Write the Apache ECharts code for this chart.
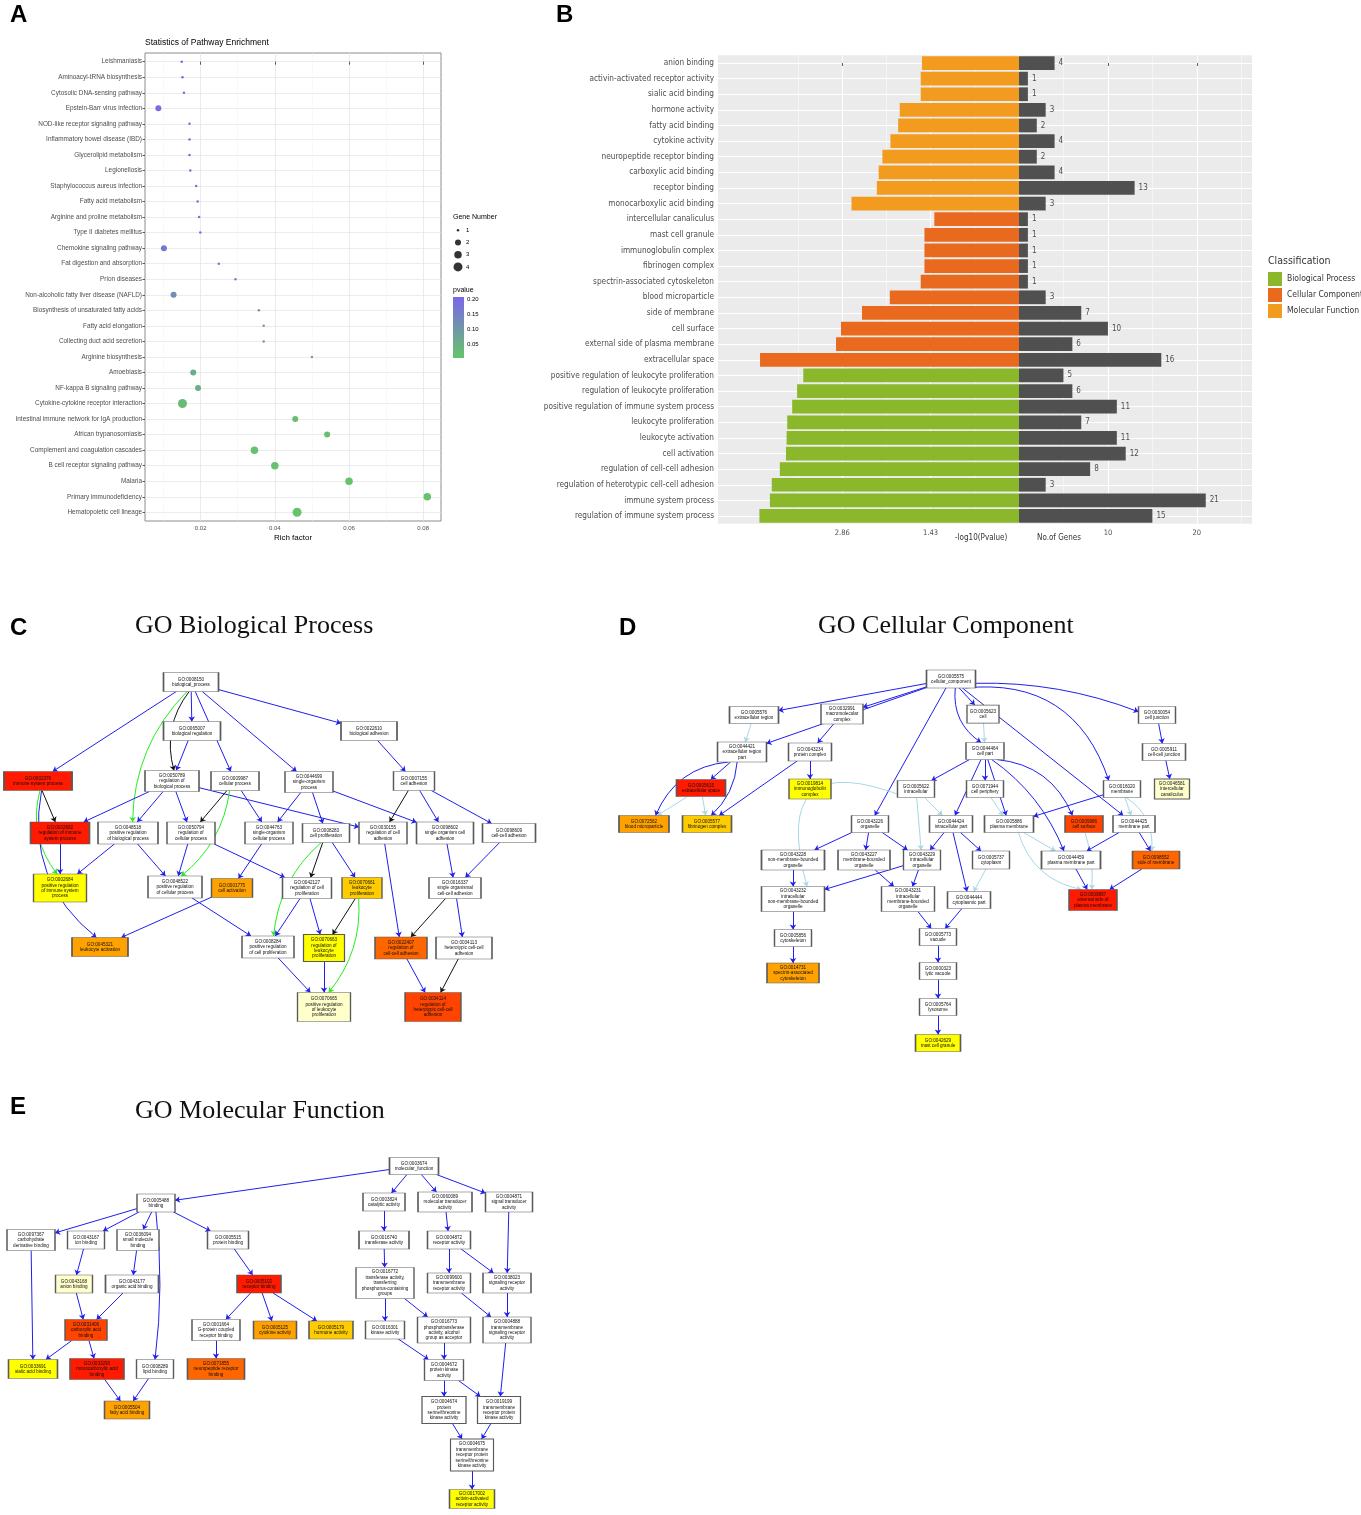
<!DOCTYPE html>
<html lang="en">
<head>
<meta charset="UTF-8">
<title>Pathway and GO enrichment</title>
<script src="https://cdn.jsdelivr.net/npm/echarts@6.0.0/dist/echarts.min.js"></script>
<style>
    html, body { margin: 0; padding: 0; background: #fff; }
    #main { width: 1361px; height: 1515px; }
</style>
</head>
<body>
<div id="main"></div>
<script>
// ---------- panel A: KEGG pathway enrichment ----------
var pathways = ['Leishmaniasis', 'Aminoacyl-tRNA biosynthesis', 'Cytosolic DNA-sensing pathway', 'Epstein-Barr virus infection',
    'NOD-like receptor signaling pathway', 'Inflammatory bowel disease (IBD)', 'Glycerolipid metabolism', 'Legionellosis',
    'Staphylococcus aureus infection', 'Fatty acid metabolism', 'Arginine and proline metabolism', 'Type II diabetes mellitus',
    'Chemokine signaling pathway', 'Fat digestion and absorption', 'Prion diseases', 'Non-alcoholic fatty liver disease (NAFLD)',
    'Biosynthesis of unsaturated fatty acids', 'Fatty acid elongation', 'Collecting duct acid secretion', 'Arginine biosynthesis',
    'Amoebiasis', 'NF-kappa B signaling pathway', 'Cytokine-cytokine receptor interaction', 'Intestinal immune network for IgA production',
    'African trypanosomiasis', 'Complement and coagulation cascades', 'B cell receptor signaling pathway', 'Malaria',
    'Primary immunodeficiency', 'Hematopoietic cell lineage'];
var richFactor = [0.0149, 0.0151, 0.0155, 0.0086, 0.0170, 0.0170, 0.0170, 0.0172, 0.0188, 0.0192, 0.0196, 0.0199,
    0.0101, 0.0249, 0.0294, 0.0127, 0.0357, 0.0370, 0.0370, 0.0500, 0.0180, 0.0193, 0.0151, 0.0455,
    0.0541, 0.0345, 0.0400, 0.0600, 0.0811, 0.0460];
var geneNumber = [1, 1, 1, 2, 1, 1, 1, 1, 1, 1, 1, 1, 2, 1, 1, 2, 1, 1, 1, 1, 2, 2, 4, 2, 2, 3, 3, 3, 3, 4];
var pValue = [0.205, 0.205, 0.203, 0.195, 0.195, 0.193, 0.193, 0.192, 0.188, 0.186, 0.184, 0.183,
    0.170, 0.155, 0.135, 0.120, 0.100, 0.095, 0.095, 0.080, 0.055, 0.053, 0.025, 0.020,
    0.018, 0.012, 0.011, 0.009, 0.008, 0.006];
var richTicks = [0.02, 0.04, 0.06, 0.08];
var richMinor = [0.01, 0.03, 0.05, 0.07];
var geneLevels = [1, 2, 3, 4];
var pvalueTicks = [0.05, 0.10, 0.15, 0.20];
var pvalueRange = [0.006, 0.207];

// ---------- panel B: GO term bars ----------
var goTerms = ['anion binding', 'activin-activated receptor activity', 'sialic acid binding', 'hormone activity',
    'fatty acid binding', 'cytokine activity', 'neuropeptide receptor binding', 'carboxylic acid binding',
    'receptor binding', 'monocarboxylic acid binding', 'intercellular canaliculus', 'mast cell granule',
    'immunoglobulin complex', 'fibrinogen complex', 'spectrin-associated cytoskeleton', 'blood microparticle',
    'side of membrane', 'cell surface', 'external side of plasma membrane', 'extracellular space',
    'positive regulation of leukocyte proliferation', 'regulation of leukocyte proliferation',
    'positive regulation of immune system process', 'leukocyte proliferation', 'leukocyte activation',
    'cell activation', 'regulation of cell-cell adhesion', 'regulation of heterotypic cell-cell adhesion',
    'immune system process', 'regulation of immune system process'];
var goClass = ['MF', 'MF', 'MF', 'MF', 'MF', 'MF', 'MF', 'MF', 'MF', 'MF',
    'CC', 'CC', 'CC', 'CC', 'CC', 'CC', 'CC', 'CC', 'CC', 'CC',
    'BP', 'BP', 'BP', 'BP', 'BP', 'BP', 'BP', 'BP', 'BP', 'BP'];
var goLogP = [1.57, 1.59, 1.59, 1.93, 1.955, 2.08, 2.21, 2.27, 2.30, 2.71,
    1.37, 1.53, 1.53, 1.53, 1.59, 2.09, 2.54, 2.88, 2.96, 4.19,
    3.49, 3.59, 3.67, 3.75, 3.76, 3.77, 3.87, 4.00, 4.03, 4.20];
var goGenes = [4, 1, 1, 3, 2, 4, 2, 4, 13, 3, 1, 1, 1, 1, 1, 3, 7, 10, 6, 16, 5, 6, 11, 7, 11, 12, 8, 3, 21, 15];
var classCodes = ['BP', 'CC', 'MF'];
var classNames = ['Biological Process', 'Cellular Component', 'Molecular Function'];
var logPTicks = [1.43, 2.86];
var logPMinor = [0.715, 2.145, 3.575];
var geneTicks = [10, 20];
var geneMinor = [5, 15, 25];

// ---------- panels C-E: GO DAGs, [id, term, significance level 0-7] ----------
var bpNodes = [
    ['0008150', 'biological_process', 0], ['0065007', 'biological regulation', 0], ['0022610', 'biological adhesion', 0],
    ['0002376', 'immune system process', 7], ['0050789', 'regulation of\nbiological process', 0], ['0009987', 'cellular process', 0],
    ['0044699', 'single-organism\nprocess', 0], ['0007155', 'cell adhesion', 0], ['0002682', 'regulation of immune\nsystem process', 7],
    ['0048518', 'positive regulation\nof biological process', 0], ['0050794', 'regulation of\ncellular process', 0],
    ['0044763', 'single-organism\ncellular process', 0], ['0008283', 'cell proliferation', 0],
    ['0030155', 'regulation of cell\nadhesion', 0], ['0098602', 'single organism cell\nadhesion', 0], ['0098609', 'cell-cell adhesion', 0],
    ['0002684', 'positive regulation\nof immune system\nprocess', 2], ['0048522', 'positive regulation\nof cellular process', 0],
    ['0001775', 'cell activation', 4], ['0042127', 'regulation of cell\nproliferation', 0], ['0070661', 'leukocyte\nproliferation', 3],
    ['0016337', 'single organismal\ncell-cell adhesion', 0], ['0045321', 'leukocyte activation', 4],
    ['0008284', 'positive regulation\nof cell proliferation', 0], ['0070663', 'regulation of\nleukocyte\nproliferation', 2],
    ['0022407', 'regulation of\ncell-cell adhesion', 5], ['0034113', 'heterotypic cell-cell\nadhesion', 0],
    ['0070665', 'positive regulation\nof leukocyte\nproliferation', 1], ['0034114', 'regulation of\nheterotypic cell-cell\nadhesion', 6]
];
// edge types: a = is_a, p = part_of, r = regulates, g = positively regulates
var bpEdges = [
    ['0008150', '0002376', 'a'], ['0008150', '0065007', 'a'], ['0008150', '0050789', 'r'], ['0008150', '0048518', 'g'],
    ['0008150', '0009987', 'a'], ['0008150', '0044699', 'a'], ['0008150', '0022610', 'a'], ['0065007', '0050789', 'a'],
    ['0002376', '0002682', 'r'], ['0002376', '0002684', 'g'], ['0002376', '0045321', 'a'], ['0050789', '0002682', 'a'],
    ['0050789', '0048518', 'a'], ['0050789', '0050794', 'a'], ['0050789', '0030155', 'a'], ['0009987', '0050794', 'r'],
    ['0009987', '0044763', 'a'], ['0009987', '0048522', 'g'], ['0044699', '0044763', 'a'], ['0044699', '0008283', 'a'],
    ['0044699', '0098602', 'a'], ['0022610', '0007155', 'a'], ['0007155', '0030155', 'r'], ['0007155', '0098602', 'a'],
    ['0007155', '0098609', 'a'], ['0002682', '0002684', 'a'], ['0048518', '0002684', 'a'], ['0048518', '0048522', 'a'],
    ['0050794', '0048522', 'a'], ['0050794', '0042127', 'a'], ['0044763', '0001775', 'a'], ['0008283', '0008284', 'g'],
    ['0008283', '0042127', 'r'], ['0008283', '0070661', 'a'], ['0030155', '0022407', 'a'], ['0098602', '0016337', 'a'],
    ['0098609', '0016337', 'a'], ['0001775', '0045321', 'a'], ['0048522', '0008284', 'a'], ['0042127', '0008284', 'a'],
    ['0042127', '0070663', 'a'], ['0070661', '0070663', 'r'], ['0070661', '0070665', 'g'], ['0016337', '0022407', 'r'],
    ['0016337', '0034113', 'a'], ['0008284', '0070665', 'a'], ['0070663', '0070665', 'a'], ['0022407', '0034114', 'a'],
    ['0034113', '0034114', 'r']
];
var ccNodes = [
    ['0005575', 'cellular_component', 0], ['0005576', 'extracellular region', 0], ['0032991', 'macromolecular\ncomplex', 0],
    ['0005623', 'cell', 0], ['0030054', 'cell junction', 0], ['0044421', 'extracellular region\npart', 0],
    ['0043234', 'protein complex', 0], ['0044464', 'cell part', 0], ['0005911', 'cell-cell junction', 0],
    ['0005615', 'extracellular space', 7], ['0019814', 'immunoglobulin\ncomplex', 2], ['0005622', 'intracellular', 0],
    ['0071944', 'cell periphery', 0], ['0016020', 'membrane', 0], ['0046581', 'intercellular\ncanaliculus', 1],
    ['0072562', 'blood microparticle', 4], ['0005577', 'fibrinogen complex', 3], ['0043226', 'organelle', 0],
    ['0044424', 'intracellular part', 0], ['0005886', 'plasma membrane', 0], ['0009986', 'cell surface', 6],
    ['0044425', 'membrane part', 0], ['0043228', 'non-membrane-bounded\norganelle', 0], ['0043227', 'membrane-bounded\norganelle', 0],
    ['0043229', 'intracellular\norganelle', 0], ['0005737', 'cytoplasm', 0], ['0044459', 'plasma membrane part', 0],
    ['0098552', 'side of membrane', 5], ['0043232', 'intracellular\nnon-membrane-bounded\norganelle', 0],
    ['0043231', 'intracellular\nmembrane-bounded\norganelle', 0], ['0044444', 'cytoplasmic part', 0],
    ['0009897', 'external side of\nplasma membrane', 7], ['0005856', 'cytoskeleton', 0], ['0005773', 'vacuole', 0],
    ['0014731', 'spectrin-associated\ncytoskeleton', 4], ['0000323', 'lytic vacuole', 0], ['0005764', 'lysosome', 0],
    ['0042629', 'mast cell granule', 2]
];
var ccEdges = [
    ['0005575', '0005576', 'a'], ['0005575', '0044421', 'a'], ['0005575', '0032991', 'a'], ['0005575', '0043226', 'a'],
    ['0005575', '0005623', 'a'], ['0005575', '0044464', 'a'], ['0005575', '0030054', 'a'], ['0005575', '0016020', 'a'],
    ['0005575', '0044425', 'a'], ['0005576', '0044421', 'p'], ['0032991', '0043234', 'a'], ['0044421', '0005615', 'a'],
    ['0044421', '0072562', 'a'], ['0044421', '0005577', 'a'], ['0043234', '0019814', 'a'], ['0043234', '0005577', 'a'],
    ['0005615', '0072562', 'p'], ['0005615', '0005577', 'p'], ['0005623', '0044464', 'p'], ['0044464', '0005622', 'a'],
    ['0044464', '0044424', 'a'], ['0044464', '0071944', 'a'], ['0044464', '0005886', 'a'], ['0044464', '0009986', 'a'],
    ['0044464', '0044459', 'a'], ['0030054', '0005911', 'a'], ['0005911', '0046581', 'a'], ['0005622', '0043229', 'p'],
    ['0005622', '0044424', 'p'], ['0005622', '0043232', 'p'], ['0043226', '0043228', 'a'], ['0043226', '0043227', 'a'],
    ['0043226', '0043229', 'a'], ['0071944', '0005886', 'p'], ['0016020', '0005886', 'a'], ['0016020', '0044425', 'p'],
    ['0016020', '0098552', 'p'], ['0044424', '0043229', 'a'], ['0044424', '0005737', 'a'], ['0044424', '0044444', 'a'],
    ['0005886', '0044459', 'p'], ['0005886', '0009897', 'p'], ['0009986', '0009897', 'p'], ['0044425', '0044459', 'a'],
    ['0044425', '0098552', 'a'], ['0043228', '0043232', 'a'], ['0043229', '0043232', 'a'], ['0043229', '0043231', 'a'],
    ['0043227', '0043231', 'a'], ['0005737', '0044444', 'p'], ['0044459', '0009897', 'a'], ['0098552', '0009897', 'a'],
    ['0043232', '0005856', 'a'], ['0005856', '0014731', 'a'], ['0043231', '0005773', 'a'], ['0044444', '0005773', 'a'],
    ['0005773', '0000323', 'a'], ['0000323', '0005764', 'a'], ['0005764', '0042629', 'a']
];
var mfNodes = [
    ['0003674', 'molecular_function', 0], ['0005488', 'binding', 0], ['0003824', 'catalytic activity', 0],
    ['0060089', 'molecular transducer\nactivity', 0], ['0004871', 'signal transducer\nactivity', 0],
    ['0097367', 'carbohydrate\nderivative binding', 0], ['0043167', 'ion binding', 0], ['0036094', 'small molecule\nbinding', 0],
    ['0005515', 'protein binding', 0], ['0016740', 'transferase activity', 0], ['0004872', 'receptor activity', 0],
    ['0043168', 'anion binding', 1], ['0043177', 'organic acid binding', 0], ['0005102', 'receptor binding', 7],
    ['0016772', 'transferase activity,\ntransferring\nphosphorus-containing\ngroups', 0],
    ['0099600', 'transmembrane\nreceptor activity', 0], ['0038023', 'signaling receptor\nactivity', 0],
    ['0031406', 'carboxylic acid\nbinding', 6], ['0001664', 'G-protein coupled\nreceptor binding', 0],
    ['0005125', 'cytokine activity', 4], ['0005179', 'hormone activity', 3], ['0016301', 'kinase activity', 0],
    ['0016773', 'phosphotransferase\nactivity, alcohol\ngroup as acceptor', 0],
    ['0004888', 'transmembrane\nsignaling receptor\nactivity', 0], ['0033691', 'sialic acid binding', 2],
    ['0033293', 'monocarboxylic acid\nbinding', 7], ['0008289', 'lipid binding', 0],
    ['0071855', 'neuropeptide receptor\nbinding', 5], ['0004672', 'protein kinase\nactivity', 0],
    ['0005504', 'fatty acid binding', 4], ['0004674', 'protein\nserine/threonine\nkinase activity', 0],
    ['0019199', 'transmembrane\nreceptor protein\nkinase activity', 0],
    ['0004675', 'transmembrane\nreceptor protein\nserine/threonine\nkinase activity', 0],
    ['0017002', 'activin-activated\nreceptor activity', 2]
];
var mfEdges = [
    ['0003674', '0005488', 'a'], ['0003674', '0003824', 'a'], ['0003674', '0060089', 'a'], ['0003674', '0004871', 'a'],
    ['0005488', '0097367', 'a'], ['0005488', '0043167', 'a'], ['0005488', '0036094', 'a'], ['0005488', '0008289', 'a'],
    ['0005488', '0005515', 'a'], ['0097367', '0033691', 'a'], ['0043167', '0043168', 'a'], ['0036094', '0043177', 'a'],
    ['0043168', '0031406', 'a'], ['0043177', '0031406', 'a'], ['0005515', '0005102', 'a'], ['0005102', '0001664', 'a'],
    ['0005102', '0005125', 'a'], ['0005102', '0005179', 'a'], ['0031406', '0033691', 'a'], ['0031406', '0033293', 'a'],
    ['0001664', '0071855', 'a'], ['0033293', '0005504', 'a'], ['0008289', '0005504', 'a'], ['0003824', '0016740', 'a'],
    ['0016740', '0016772', 'a'], ['0016772', '0016301', 'a'], ['0016772', '0016773', 'a'], ['0060089', '0004872', 'a'],
    ['0004872', '0099600', 'a'], ['0004872', '0038023', 'a'], ['0004871', '0038023', 'a'], ['0099600', '0004888', 'a'],
    ['0038023', '0004888', 'a'], ['0016301', '0004672', 'a'], ['0016773', '0004672', 'a'], ['0004888', '0019199', 'a'],
    ['0004672', '0004674', 'a'], ['0004672', '0019199', 'a'], ['0004674', '0004675', 'a'], ['0019199', '0004675', 'a'],
    ['0004675', '0017002', 'a']
];

// layout of the DAG boxes in page pixels: [cx, cy, w, h]
var nodeBox = {
    '0008150': [191, 682, 55, 19], '0065007': [192, 731, 57, 19], '0022610': [369, 731, 56, 19],
    '0002376': [38, 781, 68, 19], '0050789': [172, 781, 54, 21], '0009987': [235, 781, 48, 19],
    '0044699': [309, 782, 48, 21], '0007155': [414, 781, 41, 19], '0002682': [60, 833, 59, 22],
    '0048518': [128, 833, 60, 22], '0050794': [191, 833, 48, 22], '0044763': [269, 833, 48, 22],
    '0008283': [326, 833, 47, 19], '0030155': [383, 833, 48, 22], '0098602': [445, 833, 57, 22],
    '0098609': [509, 833, 53, 19], '0002684': [60, 888, 53, 28], '0048522': [175, 887, 54, 22],
    '0001775': [232, 888, 41, 19], '0042127': [307, 888, 49, 21], '0070661': [362, 888, 40, 21],
    '0016337': [455, 888, 52, 21], '0045321': [100, 947, 56, 19], '0008284': [268, 947, 52, 22],
    '0070663': [324, 948, 41, 27], '0022407': [401, 948, 52, 22], '0034113': [464, 948, 56, 22],
    '0070665': [324, 1007, 53, 29], '0034114': [433, 1007, 56, 29],

    '0005575': [951, 679, 49, 18], '0005576': [754, 715, 49, 17], '0032991': [842, 714, 42, 20],
    '0005623': [983, 714, 32, 18], '0030054': [1157, 715, 37, 17], '0044421': [742, 752, 49, 20],
    '0043234': [810, 752, 43, 18], '0044464': [985, 751, 38, 17], '0005911': [1164, 752, 43, 17],
    '0005615': [701, 788, 49, 17], '0019814': [810, 789, 42, 20], '0005622': [916, 789, 37, 17],
    '0071944': [985, 789, 37, 17], '0016020': [1122, 789, 37, 17], '0046581': [1172, 789, 35, 20],
    '0072562': [644, 824, 50, 17], '0005577': [707, 824, 49, 17], '0043226': [870, 824, 37, 17],
    '0044424': [951, 824, 43, 17], '0005886': [1009, 824, 49, 17], '0009986': [1084, 824, 38, 17],
    '0044425': [1134, 824, 42, 17], '0043228': [793, 860, 63, 20], '0043227': [864, 860, 52, 20],
    '0043229': [922, 860, 37, 20], '0005737': [991, 860, 37, 18], '0044459': [1071, 860, 59, 18],
    '0098552': [1156, 860, 47, 18], '0043232': [793, 899, 63, 25], '0043231': [908, 899, 53, 25],
    '0044444': [969, 900, 43, 17], '0009897': [1093, 900, 48, 21], '0005856': [793, 938, 37, 17],
    '0005773': [938, 937, 37, 17], '0014731': [793, 973, 52, 20], '0000323': [938, 971, 37, 17],
    '0005764': [938, 1007, 37, 17], '0042629': [938, 1043, 45, 17],

    '0003674': [414, 1166, 49, 17], '0005488': [156, 1203, 38, 18], '0003824': [384, 1202, 42, 18],
    '0060089': [445, 1202, 54, 20], '0004871': [509, 1202, 47, 20], '0097367': [31, 1240, 48, 21],
    '0043167': [86, 1240, 37, 18], '0036094': [138, 1240, 42, 21], '0005515': [228, 1240, 41, 18],
    '0016740': [384, 1240, 50, 18], '0004872': [449, 1240, 43, 18], '0043168': [74, 1284, 37, 18],
    '0043177': [132, 1284, 53, 18], '0005102': [259, 1284, 44, 18], '0016772': [385, 1283, 58, 31],
    '0099600': [449, 1283, 43, 20], '0038023': [507, 1283, 48, 20], '0031406': [86, 1330, 42, 21],
    '0001664': [216, 1330, 48, 21], '0005125': [275, 1330, 43, 18], '0005179': [331, 1330, 44, 18],
    '0016301': [385, 1330, 39, 18], '0016773': [444, 1330, 53, 26], '0004888': [507, 1330, 48, 26],
    '0033691': [33, 1369, 49, 19], '0033293': [97, 1369, 54, 21], '0008289': [155, 1369, 37, 19],
    '0071855': [216, 1369, 57, 21], '0004672': [444, 1370, 39, 21], '0005504': [127, 1410, 45, 18],
    '0004674': [444, 1410, 44, 27], '0019199': [499, 1410, 43, 27], '0004675': [472, 1455, 43, 32],
    '0017002': [472, 1499, 45, 19]
};
// bent edges (curveness)
var edgeBend = {
    '0008150>0050789': -0.25, '0008150>0048518': -0.2, '0002376>0002684': -0.25, '0002376>0045321': -0.3,
    '0009987>0048522': 0.2, '0008283>0008284': -0.2, '0070661>0070665': 0.2,
    '0005575>0044464': -0.3, '0005575>0016020': 0.4, '0005575>0030054': 0.1, '0044421>0072562': -0.3,
    '0044421>0005577': 0.2, '0005886>0009897': -0.3, '0009986>0009897': 0.1, '0016020>0098552': 0.3,
    '0044464>0009986': 0.3, '0044464>0044459': 0.15, '0005622>0043232': -1.0, '0005488>0008289': 0.06
};

var SANS = 'Arial, "Liberation Sans", Helvetica, sans-serif';
var NARROW = '"Liberation Sans Narrow", "Arial Narrow", "DejaVu Sans Condensed", sans-serif';
var SERIF = '"Liberation Serif", "Times New Roman", serif';
var classColors = ['#8AB82A', '#E96A1F', '#F39B1F'];
var levelColors = ['#FFFFFF', '#FFFFCC', '#FFFF00', '#FFCC00', '#FFA200', '#FF6600', '#FF4400', '#FF1A00'];
var edgeColors = { a: '#1F1FEF', p: '#A8D8E6', r: '#111111', g: '#22EE22' };
var pLow = '#66C46A', pHigh = '#7B66EA';

function dotSize(g) {
    return [0, 2.5, 6, 7.5, 9][g];
}

function boxEdgePoint(from, to) {
    var dx = to[0] - from[0], dy = to[1] - from[1];
    var sx = dx === 0 ? Infinity : (from[2] / 2) / Math.abs(dx);
    var sy = dy === 0 ? Infinity : (from[3] / 2) / Math.abs(dy);
    var t = Math.min(sx, sy);
    return [from[0] + dx * t, from[1] + dy * t];
}

var chart = echarts.init(document.getElementById('main'));

var pathIdx = pathways.map(function (n, i) { return i; });
var termIdx = goTerms.map(function (n, i) { return i; });

var grids = [
    { left: 145, top: 53, width: 296, height: 468, show: true, backgroundColor: '#fff', borderColor: '#8c8c8c', borderWidth: 1 },
    { left: 452, top: 224, width: 12, height: 49 },
    { left: 453, top: 297, width: 11, height: 61 },
    { left: 718, top: 55.2, width: 301, height: 468.6, show: true, backgroundColor: '#EBEBEB', borderWidth: 0 },
    { left: 1019, top: 55.2, width: 233, height: 468.6, show: true, backgroundColor: '#EBEBEB', borderWidth: 0 },
    { left: 0, top: 0, width: 1361, height: 1515 }
];

var tickStyle = { color: '#333', width: 0.8 };
var hidden = { axisLine: { show: false }, axisTick: { show: false }, axisLabel: { show: false } };

var xAxes = [
    {
        gridIndex: 0, type: 'value', min: 0.005, max: 0.0848, axisLine: { show: false },
        axisTick: { customValues: richTicks, length: 3, lineStyle: tickStyle },
        axisLabel: { customValues: richTicks, formatter: function (v) { return v.toFixed(2); }, fontSize: 6, color: '#4d4d4d', margin: 4, fontFamily: SANS },
        splitLine: { lineStyle: { color: '#e4e4e4', width: 0.7 } },
        name: 'Rich factor', nameLocation: 'middle', nameGap: 13, nameTextStyle: { fontSize: 8, color: '#000', fontFamily: SANS }
    },
    Object.assign({ gridIndex: 0, type: 'value', min: 0.005, max: 0.0848, splitLine: { lineStyle: { color: '#f3f3f3', width: 0.5 } } }, hidden,
        { axisTick: { show: false, customValues: richMinor } }),
    { gridIndex: 1, type: 'value', min: -1, max: 1, show: false },
    { gridIndex: 2, type: 'category', data: ['pvalue'], show: false },
    {
        gridIndex: 3, type: 'value', inverse: true, min: 0, max: 4.87, axisLine: { show: false },
        axisTick: { customValues: [0].concat(logPTicks), length: 3, lineStyle: tickStyle },
        axisLabel: { customValues: logPTicks, formatter: function (v) { return v.toFixed(2); }, fontSize: 7.5, color: '#4d4d4d', margin: 5, fontFamily: NARROW },
        splitLine: { lineStyle: { color: '#fff', width: 1.1 } }
    },
    Object.assign({ gridIndex: 3, type: 'value', inverse: true, min: 0, max: 4.87, splitLine: { lineStyle: { color: '#fff', width: 0.5 } } }, hidden,
        { axisTick: { show: false, customValues: logPMinor } }),
    {
        gridIndex: 4, type: 'value', min: 0, max: 26.2, axisLine: { show: false },
        axisTick: { customValues: [0].concat(geneTicks), length: 3, lineStyle: tickStyle },
        axisLabel: { customValues: geneTicks, fontSize: 7.5, color: '#4d4d4d', margin: 5, fontFamily: NARROW },
        splitLine: { lineStyle: { color: '#fff', width: 1.1 } }
    },
    Object.assign({ gridIndex: 4, type: 'value', min: 0, max: 26.2, splitLine: { lineStyle: { color: '#fff', width: 0.5 } } }, hidden,
        { axisTick: { show: false, customValues: geneMinor } }),
    { gridIndex: 5, type: 'value', min: 0, max: 1361, show: false }
];

var yAxes = [
    {
        gridIndex: 0, type: 'value', inverse: true, min: -0.56, max: 29.56, axisLine: { show: false },
        axisTick: { customValues: pathIdx, length: 2.5, lineStyle: tickStyle },
        axisLabel: { customValues: pathIdx, formatter: function (v) { return pathways[v]; }, fontSize: 6.4, color: '#4d4d4d', margin: 3, fontFamily: SANS },
        splitLine: { lineStyle: { color: '#e4e4e4', width: 0.7 } }
    },
    {
        gridIndex: 1, type: 'value', min: 0.5, max: 4.5, inverse: true, position: 'right',
        axisLine: { show: false }, axisTick: { show: false }, splitLine: { show: false },
        axisLabel: { customValues: geneLevels, fontSize: 6, color: '#000', margin: 2, fontFamily: SANS }
    },
    {
        gridIndex: 2, type: 'value', min: pvalueRange[0], max: pvalueRange[1], position: 'right',
        axisLine: { show: false }, axisTick: { show: false }, splitLine: { show: false },
        axisLabel: { customValues: pvalueTicks, formatter: function (v) { return v.toFixed(2); }, fontSize: 6, color: '#000', margin: 3, fontFamily: SANS }
    },
    {
        gridIndex: 3, type: 'category', data: goTerms, inverse: true, axisLine: { show: false },
        axisTick: { alignWithLabel: true, length: 3, lineStyle: tickStyle },
        axisLabel: { interval: 0, fontSize: 8.2, color: '#4d4d4d', margin: 4, fontFamily: NARROW },
        splitLine: { show: false }
    },
    Object.assign({ gridIndex: 3, type: 'value', min: -0.5, max: 29.5, inverse: true, splitLine: { lineStyle: { color: '#fff', width: 1.1 } } }, hidden,
        { axisTick: { show: false, customValues: termIdx } }),
    Object.assign({ gridIndex: 4, type: 'category', data: goTerms, inverse: true, splitLine: { show: false } }, hidden),
    Object.assign({ gridIndex: 4, type: 'value', min: -0.5, max: 29.5, inverse: true, splitLine: { lineStyle: { color: '#fff', width: 1.1 } } }, hidden,
        { axisTick: { show: false, customValues: termIdx } }),
    { gridIndex: 5, type: 'value', min: 0, max: 1515, inverse: true, show: false }
];

var series = [];

// A: bubbles
series.push({
    type: 'scatter', xAxisIndex: 0, yAxisIndex: 0,
    data: pathways.map(function (n, i) { return [richFactor[i], i, geneNumber[i], pValue[i], n]; }),
    symbolSize: function (v) { return dotSize(v[2]); },
    itemStyle: { opacity: 1 }
});
// A: gene number legend
series.push({
    type: 'scatter', xAxisIndex: 2, yAxisIndex: 1,
    data: geneLevels.map(function (g) { return [0, g]; }),
    symbolSize: function (v) { return dotSize(v[1]); },
    itemStyle: { color: '#000' }
});
// A: pvalue colour bar
series.push({
    type: 'bar', xAxisIndex: 3, yAxisIndex: 2, barWidth: '100%', data: [pvalueRange[1]],
    itemStyle: { color: new echarts.graphic.LinearGradient(0, 0, 0, 1, [{ offset: 0, color: pHigh }, { offset: 1, color: pLow }]) }
});
// B: -log10(p) bars by class
classCodes.forEach(function (code, c) {
    series.push({
        type: 'bar', name: classNames[c], xAxisIndex: 4, yAxisIndex: 3, stack: 'cls', barWidth: '88%',
        data: goTerms.map(function (t, i) { return goClass[i] === code ? goLogP[i] : '-'; }),
        itemStyle: { color: classColors[c] }
    });
});
// B: gene counts
series.push({
    type: 'bar', name: 'No.of Genes', xAxisIndex: 6, yAxisIndex: 5, barWidth: '88%', data: goGenes,
    itemStyle: { color: '#505050' },
    label: { show: true, position: 'right', distance: 4, fontSize: 8, color: '#4d4d4d', fontFamily: NARROW }
});
// C-E: DAGs
[[bpNodes, bpEdges], [ccNodes, ccEdges], [mfNodes, mfEdges]].forEach(function (g) {
    series.push({
        type: 'lines', coordinateSystem: 'cartesian2d', xAxisIndex: 8, yAxisIndex: 7, z: 2,
        symbol: ['none', 'arrow'], symbolSize: 5,
        lineStyle: { width: 1, opacity: 1 },
        data: g[1].map(function (e) {
            var a = nodeBox[e[0]], b = nodeBox[e[1]];
            return {
                coords: [boxEdgePoint(a, b), boxEdgePoint(b, a)],
                lineStyle: { color: edgeColors[e[2]], curveness: edgeBend[e[0] + '>' + e[1]] || 0 }
            };
        })
    });
    series.push({
        type: 'scatter', xAxisIndex: 8, yAxisIndex: 7, z: 3, symbol: 'rect',
        data: g[0].map(function (n) {
            var b = nodeBox[n[0]];
            return { value: [b[0], b[1]], name: n[0], term: n[1], symbolSize: [b[2], b[3]], itemStyle: { color: levelColors[n[2]] } };
        }),
        itemStyle: { borderColor: '#5a5a5a', borderWidth: 1, opacity: 1 },
        label: {
            show: true, position: 'inside', fontSize: 4.6, lineHeight: 5.4, color: '#111', fontFamily: SANS,
            formatter: function (p) { return 'GO:' + p.data.name + '\n' + p.data.term; }
        }
    });
});

function txt(text, left, top, size, extra) {
    return Object.assign({ text: text, left: left, top: top, padding: 0,
        textStyle: Object.assign({ fontSize: size, fontWeight: 'normal', color: '#111', fontFamily: SANS }, extra || {}) });
}

var titles = [
    txt('A', 10, 3, 24, { fontWeight: 'bold', color: '#000' }),
    txt('B', 556, 3, 24, { fontWeight: 'bold', color: '#000' }),
    txt('C', 10, 616, 24, { fontWeight: 'bold', color: '#000' }),
    txt('D', 619, 616, 24, { fontWeight: 'bold', color: '#000' }),
    txt('E', 10, 1095, 24, { fontWeight: 'bold', color: '#000' }),
    txt('Statistics of Pathway Enrichment', 145, 38, 8.5, { color: '#000' }),
    txt('Gene Number', 453, 214, 7, { color: '#000' }),
    txt('pvalue', 453, 287, 7, { color: '#000' }),
    txt('Classification', 1268, 256, 10.5, { color: '#333', fontFamily: NARROW }),
    txt('-log10(Pvalue)', 955, 534, 8, { color: '#333', fontFamily: NARROW }),
    txt('No.of Genes', 1037, 534, 8, { color: '#333', fontFamily: NARROW }),
    txt('GO Biological Process', 135, 613, 26, { fontFamily: SERIF }),
    txt('GO Cellular Component', 818, 613, 26, { fontFamily: SERIF }),
    txt('GO Molecular Function', 135, 1098, 26, { fontFamily: SERIF })
];

chart.setOption({
    animation: false,
    backgroundColor: '#fff',
    title: titles,
    grid: grids,
    xAxis: xAxes,
    yAxis: yAxes,
    visualMap: [{
        type: 'continuous', show: false, seriesIndex: 0, dimension: 3,
        min: pvalueRange[0], max: pvalueRange[1], inRange: { color: [pLow, pHigh] }
    }],
    legend: {
        data: classNames, left: 1268, top: 272, orient: 'vertical', padding: 0,
        itemWidth: 14, itemHeight: 14, itemGap: 2, icon: 'rect', selectedMode: false,
        textStyle: { fontSize: 8.5, color: '#333', fontFamily: NARROW }
    },
    series: series
});
</script>
</body>
</html>
